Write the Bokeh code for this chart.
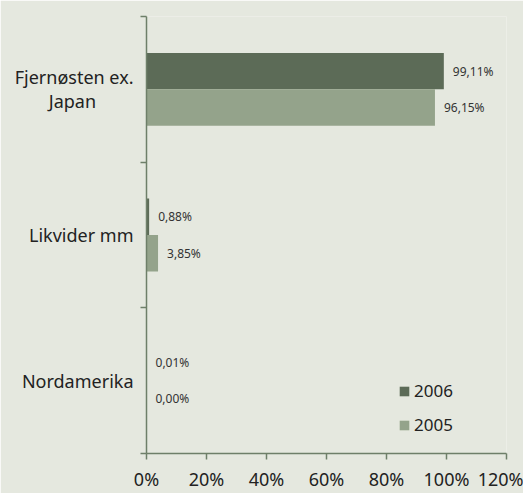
from bokeh.plotting import figure
from bokeh.models import FixedTicker, Legend, LegendItem, ColumnDataSource, Range1d
from bokeh.embed import file_html
from bokeh.resources import INLINE
from bokeh.core.properties import value

# ---- data ----
categories = ["Fjernøsten ex.\nJapan", "Likvider mm", "Nordamerika"]
series_names = ["2006", "2005"]
values_2006 = [99.11, 0.88, 0.01]
values_2005 = [96.15, 3.85, 0.00]
x_ticks = [0, 20, 40, 60, 80, 100, 120]
x_tick_labels = ["0%", "20%", "40%", "60%", "80%", "100%", "120%"]

# ---- styles ----
BG = "#E5E8DF"
DARK = "#5C6B57"
LIGHT = "#94A38B"
AXIS = "#6E7F69"
TXT = "#222222"
FONT = "Noto Sans"

n = len(categories)
centers = [n - i - 0.5 for i in range(n)]
dodge = 0.125
bar_h = 0.25

def fmt(v):
    return ("%.2f" % v).replace(".", ",") + "%"

def centered(label, pad=8):
    # visually centre the shorter second line of a wrapped category label
    lines = label.split("\n")
    if len(lines) == 2:
        return lines[0] + "\n" + lines[1] + "\u00a0" * pad
    return label

src06 = ColumnDataSource(dict(y=[c + dodge for c in centers], v=values_2006,
                              lab=[fmt(v) for v in values_2006]))
src05 = ColumnDataSource(dict(y=[c - dodge for c in centers], v=values_2005,
                              lab=[fmt(v) for v in values_2005]))

p = figure(width=523, height=493, output_backend="svg", toolbar_location=None,
           x_range=Range1d(x_ticks[0], x_ticks[-1]), y_range=Range1d(0, n),
           min_border_left=146, min_border_right=17, min_border_top=16,
           min_border_bottom=35)
p.background_fill_color = BG
p.border_fill_color = BG
p.outline_line_color = None
p.grid.visible = False

r06 = p.hbar(y="y", left=0, right="v", height=bar_h, source=src06,
             fill_color=DARK, line_color=None)
r05 = p.hbar(y="y", left=0, right="v", height=bar_h, source=src05,
             fill_color=LIGHT, line_color=None)

for s in (src06, src05):
    p.text(x="v", y="y", text="lab", source=s, x_offset=9,
           text_baseline="middle", text_align="left",
           text_font=value(FONT), text_font_size="12px", text_color="#333333")

# x axis
xa = p.xaxis[0]
xa.ticker = FixedTicker(ticks=x_ticks)
xa.major_label_overrides = {t: l for t, l in zip(x_ticks, x_tick_labels)}
xa.axis_line_color = AXIS
xa.axis_line_width = 1.5
xa.major_tick_line_color = AXIS
xa.major_tick_line_width = 1.5
xa.major_tick_in = 0
xa.major_tick_out = 6
xa.minor_tick_line_color = None
xa.major_label_text_font = FONT
xa.major_label_text_font_size = "18px"
xa.major_label_text_color = TXT
xa.major_label_standoff = 7

# y axis
ya = p.yaxis[0]
ya.ticker = FixedTicker(ticks=centers, minor_ticks=[float(i) for i in range(n + 1)])
ya.major_label_overrides = {c: centered(l) for c, l in zip(centers, categories)}
ya.axis_line_color = AXIS
ya.axis_line_width = 1.5
ya.major_tick_line_color = None
ya.major_tick_in = 0
ya.major_tick_out = 0
ya.minor_tick_line_color = AXIS
ya.minor_tick_line_width = 1.5
ya.minor_tick_in = 0
ya.minor_tick_out = 6
ya.major_label_text_font = FONT
ya.major_label_text_font_size = "18px"
ya.major_label_text_color = TXT
ya.major_label_text_line_height = 1.0
ya.major_label_standoff = 7

legend = Legend(items=[LegendItem(label=series_names[0], renderers=[r06]),
                       LegendItem(label=series_names[1], renderers=[r05])],
                location=(252, 17))
legend.background_fill_alpha = 0
legend.border_line_alpha = 0
legend.padding = 0
legend.margin = 0
legend.glyph_width = 12
legend.glyph_height = 12
legend.label_standoff = 4
legend.spacing = 11
legend.label_text_font = FONT
legend.label_text_font_size = "17px"
legend.label_text_color = TXT
p.add_layout(legend)

open("out.html", "w").write(file_html(p, INLINE))
